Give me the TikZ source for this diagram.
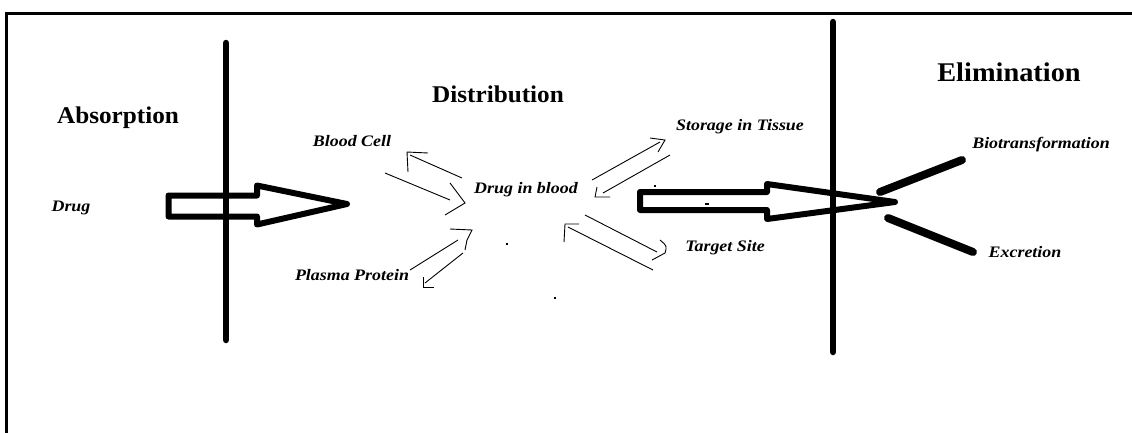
\documentclass[tikz,border=0pt]{standalone}
\usepackage{fontspec}
\newfontfamily\mylblfont[FakeStretch=1.12]{Liberation Serif}
\newfontfamily\myheadfont[FakeStretch=1.05]{Liberation Serif}
\newcommand\mylbl{\mylblfont\fontsize{16}{19}\selectfont\bfseries\itshape}
\newcommand\myhead{\myheadfont\fontsize{24}{28}\selectfont\bfseries}
\newcommand\myheadbig{\myheadfont\fontsize{27}{31}\selectfont\bfseries}
\begin{document}
\begin{tikzpicture}[x=1pt,y=-1pt,
  bar/.style={line width=6.5pt,line cap=round},
  hollow/.style={line width=6pt,line join=round},
  fork/.style={line width=8pt,line cap=round},
  thinln/.style={line width=0.9pt},
  lbl/.style={font=\mylbl,inner sep=0pt},
  headlbl/.style={font=\myhead,inner sep=0pt},
  speck/.style={line width=1.2pt}]
\useasboundingbox (0,0) rectangle (1132,432);
% frame
\draw[line width=3pt] (6,440) -- (6,13) -- (1140,13);
% headings
\node[headlbl] (abs) at (118,118) {Absorption};
\node[headlbl] (dist) at (498,94) {Distribution};
\node[headlbl,font=\myheadbig] (elim) at (1009,72) {Elimination};
% labels
\node[lbl] (drug) at (71,208) {Drug};
\node[lbl] (bcell) at (352,141) {Blood Cell};
\node[lbl] (pprot) at (352,275) {Plasma Protein};
\node[lbl] (dib) at (526,190) {Drug in blood};
\node[lbl] (store) at (740,127) {Storage in Tissue};
\node[lbl] (target) at (725,248) {Target Site};
\node[lbl] (bio) at (1041,145) {Biotransformation};
\node[lbl] (excr) at (1025,252) {Excretion};
% hollow arrows
\draw[hollow] (168.5,195.5) -- (257,195.5) -- (257,185.5) -- (347,204) -- (257,224.5) -- (257,216.5) -- (168.5,216.5) -- cycle;
\draw[hollow] (640,192) -- (767,192) -- (767,184) -- (895,202) -- (767,219) -- (767,210) -- (640,210) -- cycle;
% vertical bars
\coordinate (lb1) at (226,43); \coordinate (lb2) at (226,340);
\coordinate (rb1) at (833,22); \coordinate (rb2) at (833,352);
\draw[bar] (lb1) -- (lb2);
\draw[bar] (rb1) -- (rb2);
% fork to biotransformation / excretion
\coordinate (f1) at (880,192); \coordinate (f2) at (962,160);
\coordinate (f3) at (888,218); \coordinate (f4) at (973,252);
\draw[fork] (f1) -- (f2);
\draw[fork] (f3) -- (f4);
% blood cell arrows
\draw[thinln] (462,178) -- (410,155);
\draw[thinln] (428,153) -- (407,152) -- (408,172);
\draw[thinln] (385,173) -- (450,200);
\draw[thinln] (450,183) -- (465,203) -- (445,215);
% plasma protein arrows
\draw[thinln] (458,240) -- (410,270);
\draw[thinln] (450,229) -- (472,230) -- (467,240) -- (465,250);
\draw[thinln] (463,253) -- (425,283);
\draw[thinln] (423,277) -- (423,287) -- (434,287);
% storage arrows
\draw[thinln] (592,180) -- (660,142);
\draw[thinln] (650,138) -- (665,140) -- (658,152);
\draw[thinln] (670,155) -- (603,193);
\draw[thinln] (597,187) -- (595,197) -- (610,197);
% target arrows
\draw[thinln] (585,215) -- (657,252);
\draw[thinln] (660,240) .. controls (667,246) .. (665,253) -- (652,260);
\draw[thinln] (653,270) -- (568,227);
\draw[thinln] (579,224) -- (565,224) -- (564,242);
% specks
\draw[speck] (506,244) -- (508,244);
\draw[speck] (554,298) -- (556,298);
\draw[speck] (654,186) -- (656,186);
\draw[speck] (705,204) -- (709,204);
\end{tikzpicture}
\end{document}
